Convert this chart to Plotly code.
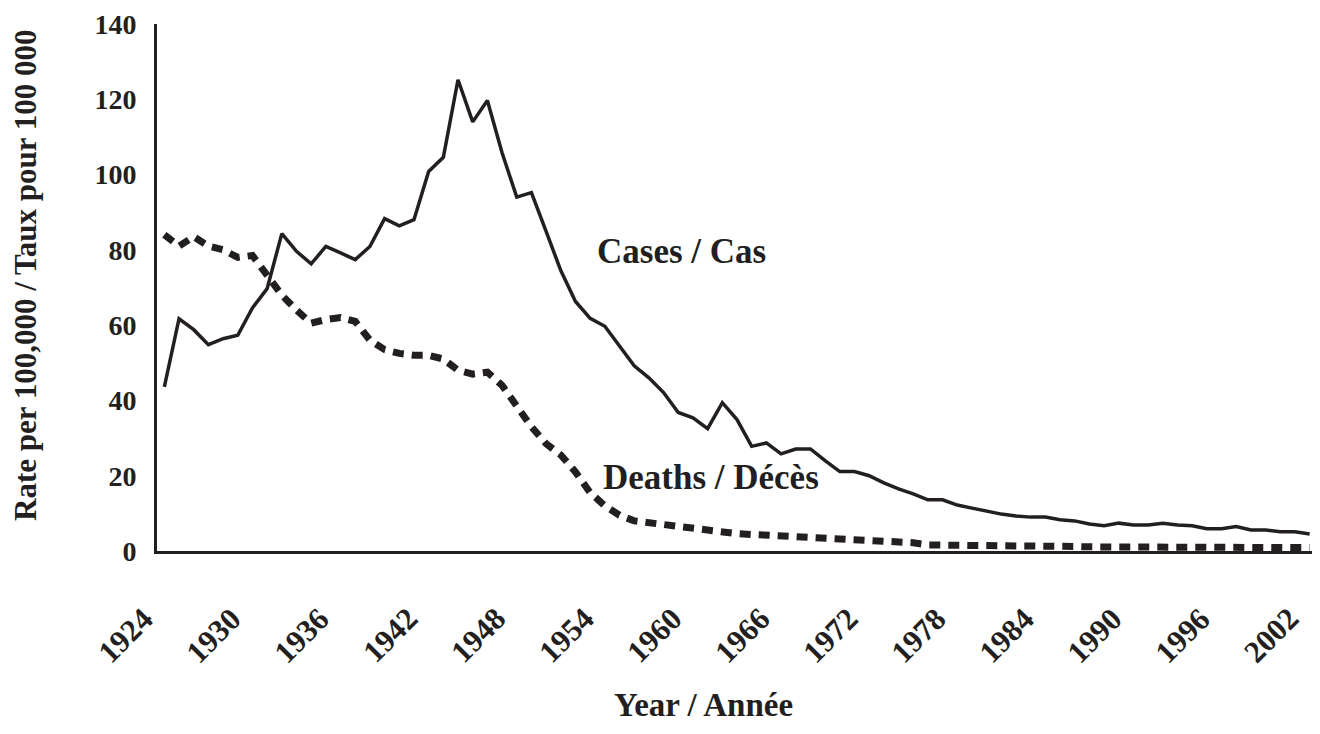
import plotly.graph_objects as go

years = list(range(1924, 2003))

cases = [43.6, 61.7, 58.8, 54.8, 56.4, 57.3, 64.6, 69.7, 84.3, 79.6,
         76.3, 80.9, 79.2, 77.4, 80.9, 88.3, 86.4, 88.0, 100.8, 104.6,
         125.2, 114.0, 119.7, 105.8, 94.0, 95.2, 84.9, 74.5, 66.3, 61.8,
         59.7, 54.4, 49.2, 46.0, 42.1, 36.8, 35.4, 32.5, 39.4, 34.9,
         27.8, 28.7, 25.8, 27.1, 27.1, 24.0, 21.1, 21.1, 20.0, 18.1,
         16.5, 15.2, 13.6, 13.6, 12.2, 11.4, 10.6, 9.8, 9.3, 9.0,
         9.0, 8.3, 8.0, 7.2, 6.7, 7.4, 6.9, 6.9, 7.4, 6.9,
         6.7, 5.9, 5.9, 6.5, 5.6, 5.6, 5.1, 5.1, 4.5]

deaths = [84.0, 81.0, 83.5, 81.0, 80.0, 78.0, 78.5, 73.0, 68.0, 64.0,
          60.5, 61.5, 62.0, 61.0, 56.0, 53.5, 52.5, 52.0, 52.0, 51.0,
          48.0, 47.0, 47.5, 44.0, 38.5, 33.0, 28.5, 25.5, 21.0, 15.5,
          12.0, 9.5, 8.0, 7.5, 7.0, 6.2, 5.8, 5.2, 4.8, 4.6,
          4.4, 4.2, 4.0, 3.8, 3.7, 3.5, 3.2, 3.0, 2.8, 2.6,
          2.4, 2.2, 1.6, 1.6, 1.5, 1.4, 1.3, 1.3, 1.2, 1.2,
          1.2, 1.2, 1.2, 1.1, 1.1, 1.1, 1.1, 1.1, 1.0, 1.0,
          1.0, 1.0, 1.0, 1.0, 1.0, 0.9, 0.9, 0.9, 0.9]

tick_years = list(range(1924, 2003, 6))
tick_labels = [str(y) for y in tick_years]
y_ticks = [0, 20, 40, 60, 80, 100, 120, 140]

INK = "#231f20"
FONT = "Liberation Serif"

fig = go.Figure()
fig.add_trace(go.Scatter(x=years, y=cases, mode="lines",
                         line=dict(color=INK, width=3.5), name="Cases / Cas"))
fig.add_trace(go.Scatter(x=years, y=deaths, mode="lines",
                         line=dict(color=INK, width=7, dash="11px,8px"),
                         name="Deaths / Décès"))

# rotated year labels, hung from the axis like the reference
year_annotations = [
    dict(text=f"<b>{lab}</b>", x=yr, y=-0.089, xref="x", yref="paper",
         textangle=-45, showarrow=False, xanchor="right", yanchor="top",
         xshift=-2, font=dict(family=FONT, size=31, color=INK))
    for yr, lab in zip(tick_years, tick_labels)
]

fig.update_layout(
    template="none",
    width=1320, height=734,
    margin=dict(l=149, r=11, t=16, b=191, pad=0),
    paper_bgcolor="white", plot_bgcolor="white",
    showlegend=False,
    font=dict(family=FONT, color=INK),
    xaxis=dict(range=[1923.5, 2002.5], tickvals=tick_years, showticklabels=False,
               showgrid=False, zeroline=False, automargin=False,
               showline=True, linecolor=INK, linewidth=3, ticks=""),
    yaxis=dict(range=[0, 140], tickvals=y_ticks, showgrid=False, zeroline=False,
               automargin=False, ticklabeloverflow="allow",
               showline=True, linecolor=INK, linewidth=3, ticks="",
               ticklabelstandoff=12,
               tickfont=dict(family=FONT, size=28, color=INK, weight="bold")),
    annotations=[
        dict(text="<b>Cases / Cas</b>", x=1959.2, y=79.6, xref="x", yref="y",
             showarrow=False, xanchor="center", yanchor="middle",
             font=dict(family=FONT, size=35, color=INK)),
        dict(text="<b>Deaths / Décès</b>", x=1961.2, y=19.4, xref="x", yref="y",
             showarrow=False, xanchor="center", yanchor="middle",
             font=dict(family=FONT, size=35, color=INK)),
        dict(text="<b>Year / Année</b>", x=(703 - 157) / 1160, y=(551 - 705) / 527,
             xref="paper", yref="paper", showarrow=False,
             xanchor="center", yanchor="middle",
             font=dict(family=FONT, size=33, color=INK)),
        dict(text="<b>Rate per 100,000 / Taux pour 100 000</b>",
             x=(25 - 157) / 1160, y=(551 - 276) / 527, textangle=-90,
             xref="paper", yref="paper", showarrow=False,
             xanchor="center", yanchor="middle",
             font=dict(family=FONT, size=31, color=INK)),
    ] + year_annotations,
)

fig.write_html("out.html")
